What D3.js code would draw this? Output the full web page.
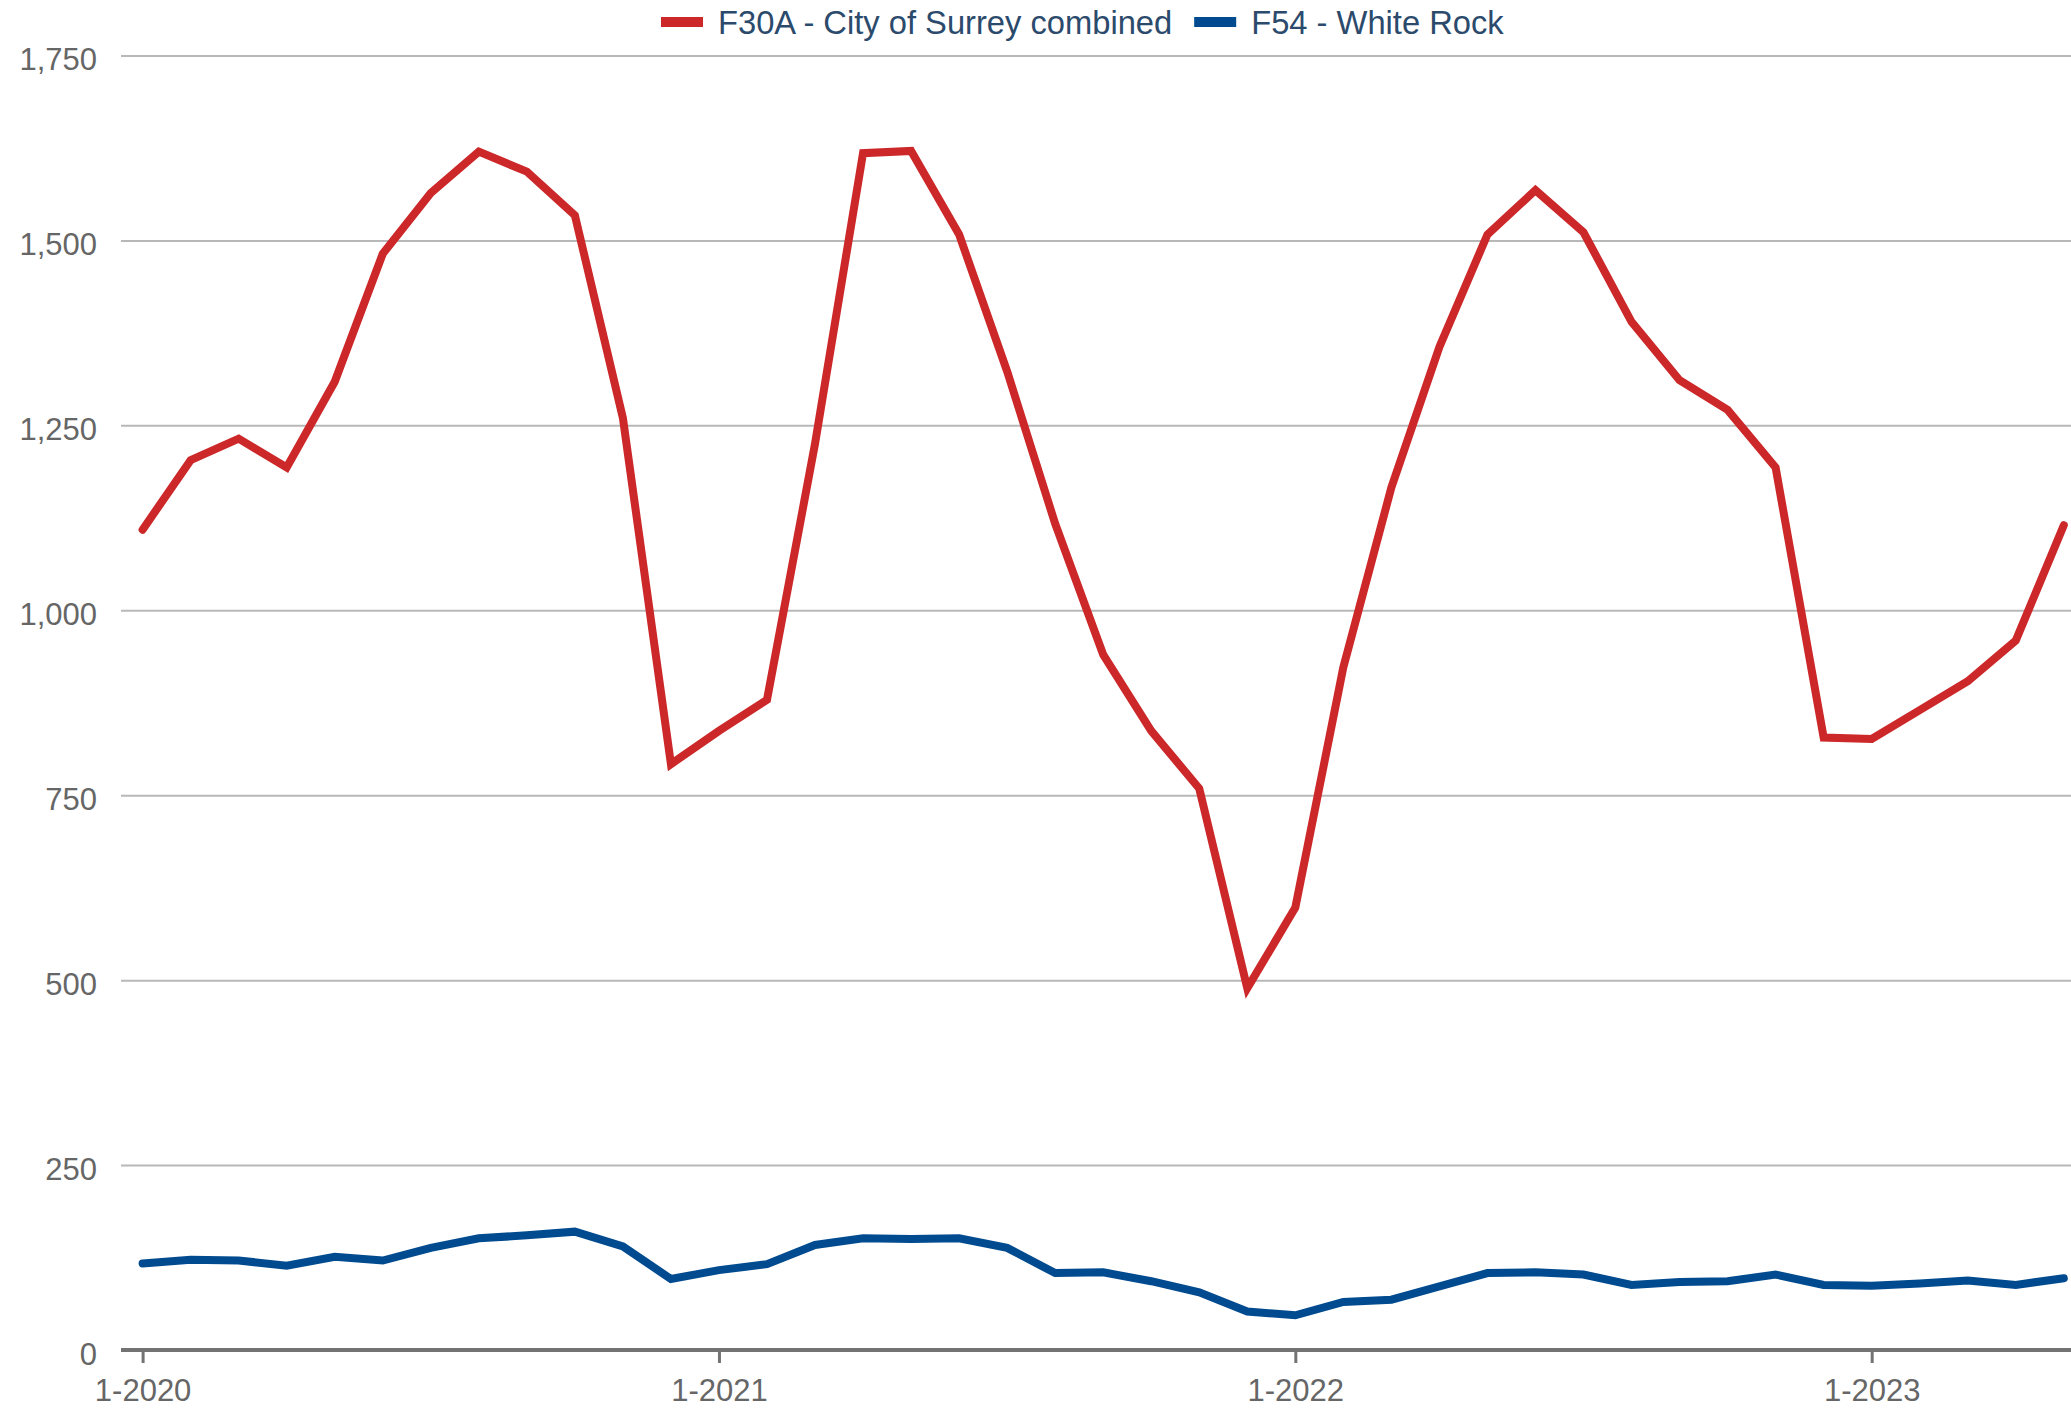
<!DOCTYPE html>
<html>
<head>
<meta charset="utf-8">
<script src="https://cdn.jsdelivr.net/npm/d3@7"></script>
<style>
  body { margin: 0; background: #fff; }
  text { font-family: "Liberation Sans", Arial, sans-serif; }
</style>
</head>
<body>
<div id="chart"></div>
<script>
  // monthly categories, Jan 2020 .. May 2023
  const months = [
    '1-2020','2-2020','3-2020','4-2020','5-2020','6-2020','7-2020','8-2020','9-2020','10-2020','11-2020','12-2020',
    '1-2021','2-2021','3-2021','4-2021','5-2021','6-2021','7-2021','8-2021','9-2021','10-2021','11-2021','12-2021',
    '1-2022','2-2022','3-2022','4-2022','5-2022','6-2022','7-2022','8-2022','9-2022','10-2022','11-2022','12-2022',
    '1-2023','2-2023','3-2023','4-2023','5-2023'
  ];
  const xTickLabels = ['1-2020', '1-2021', '1-2022', '1-2023'];
  const yTicks = [0, 250, 500, 750, 1000, 1250, 1500, 1750];

  const surrey = [1109, 1203, 1232, 1193, 1309, 1482, 1564, 1620, 1593, 1534, 1260, 792,
                  837, 879, 1225, 1618, 1621, 1508, 1323, 1117, 940, 837, 759, 489,
                  598, 923, 1166, 1356, 1508, 1568, 1511, 1390, 1311, 1271, 1193, 828,
                  826, 865, 904, 959, 1115];
  const whiteRock = [117, 122, 121, 114, 126, 121, 138, 151, 155, 160, 140, 96,
                     108, 116, 142, 151, 150, 151, 138, 104, 105, 93, 78, 52,
                     47, 65, 68, 86, 104, 105, 102, 88, 92, 93, 102, 88,
                     87, 90, 94, 88, 97];

  const seriesNames = ['F30A - City of Surrey combined', 'F54 - White Rock'];
  const seriesColors = ['#cc2729', '#004a8f'];
  const series = [surrey, whiteRock].map((values, i) => ({
    name: seriesNames[i], color: seriesColors[i], values
  }));

  const W = 2071, H = 1409;
  const plot = { left: 121, right: 2071, top: 55.5, bottom: 1350 };

  const x = d3.scalePoint()
    .domain(months)
    .range([142.6, 2063.8]);

  const y = d3.scaleLinear()
    .domain([0, 1750])
    .range([plot.bottom, plot.top]);

  const svg = d3.select('#chart')
    .append('svg')
    .attr('width', W)
    .attr('height', H)
    .attr('viewBox', `0 0 ${W} ${H}`);

  // gridlines + y labels
  const yAxis = svg.append('g')
    .attr('transform', `translate(${plot.left},0)`)
    .call(d3.axisLeft(y).tickValues(yTicks).tickFormat(d3.format(',')).tickSize(-(plot.right - plot.left)).tickPadding(24));
  yAxis.select('.domain').remove();
  yAxis.selectAll('.tick line')
    .attr('stroke', '#b8b8b8')
    .attr('stroke-width', 2);
  yAxis.selectAll('.tick text')
    .attr('fill', '#666')
    .attr('font-size', 31)
    .attr('dy', 14);

  // lines
  const line = d3.line()
    .x((d, i) => x(months[i]))
    .y(d => y(d));

  svg.append('g')
    .selectAll('path')
    .data(series)
    .join('path')
    .attr('fill', 'none')
    .attr('stroke', d => d.color)
    .attr('stroke-width', 8)
    .attr('stroke-linecap', 'round')
    .attr('stroke-linejoin', 'miter')
    .attr('d', d => line(d.values));

  // x axis
  const xAxis = svg.append('g')
    .attr('transform', `translate(0,${plot.bottom})`)
    .call(d3.axisBottom(x).tickValues(xTickLabels).tickSize(13).tickPadding(16).tickSizeOuter(0));
  xAxis.select('.domain')
    .attr('d', `M${plot.left},0H${plot.right}`)
    .attr('stroke', '#737373')
    .attr('stroke-width', 4);
  xAxis.selectAll('.tick line')
    .attr('stroke', '#737373')
    .attr('stroke-width', 3);
  xAxis.selectAll('.tick text')
    .attr('fill', '#666')
    .attr('font-size', 31);

  // legend
  const legend = svg.append('g');
  let lx = 661;
  series.forEach(s => {
    legend.append('rect')
      .attr('x', lx).attr('y', 17)
      .attr('width', 42).attr('height', 10)
      .attr('fill', s.color);
    const t = legend.append('text')
      .attr('x', lx + 57).attr('y', 33.5)
      .attr('font-size', 32.7)
      .attr('fill', '#2b4a6c')
      .text(s.name);
    lx += 57 + t.node().getComputedTextLength() + 22;
  });
</script>
</body>
</html>
